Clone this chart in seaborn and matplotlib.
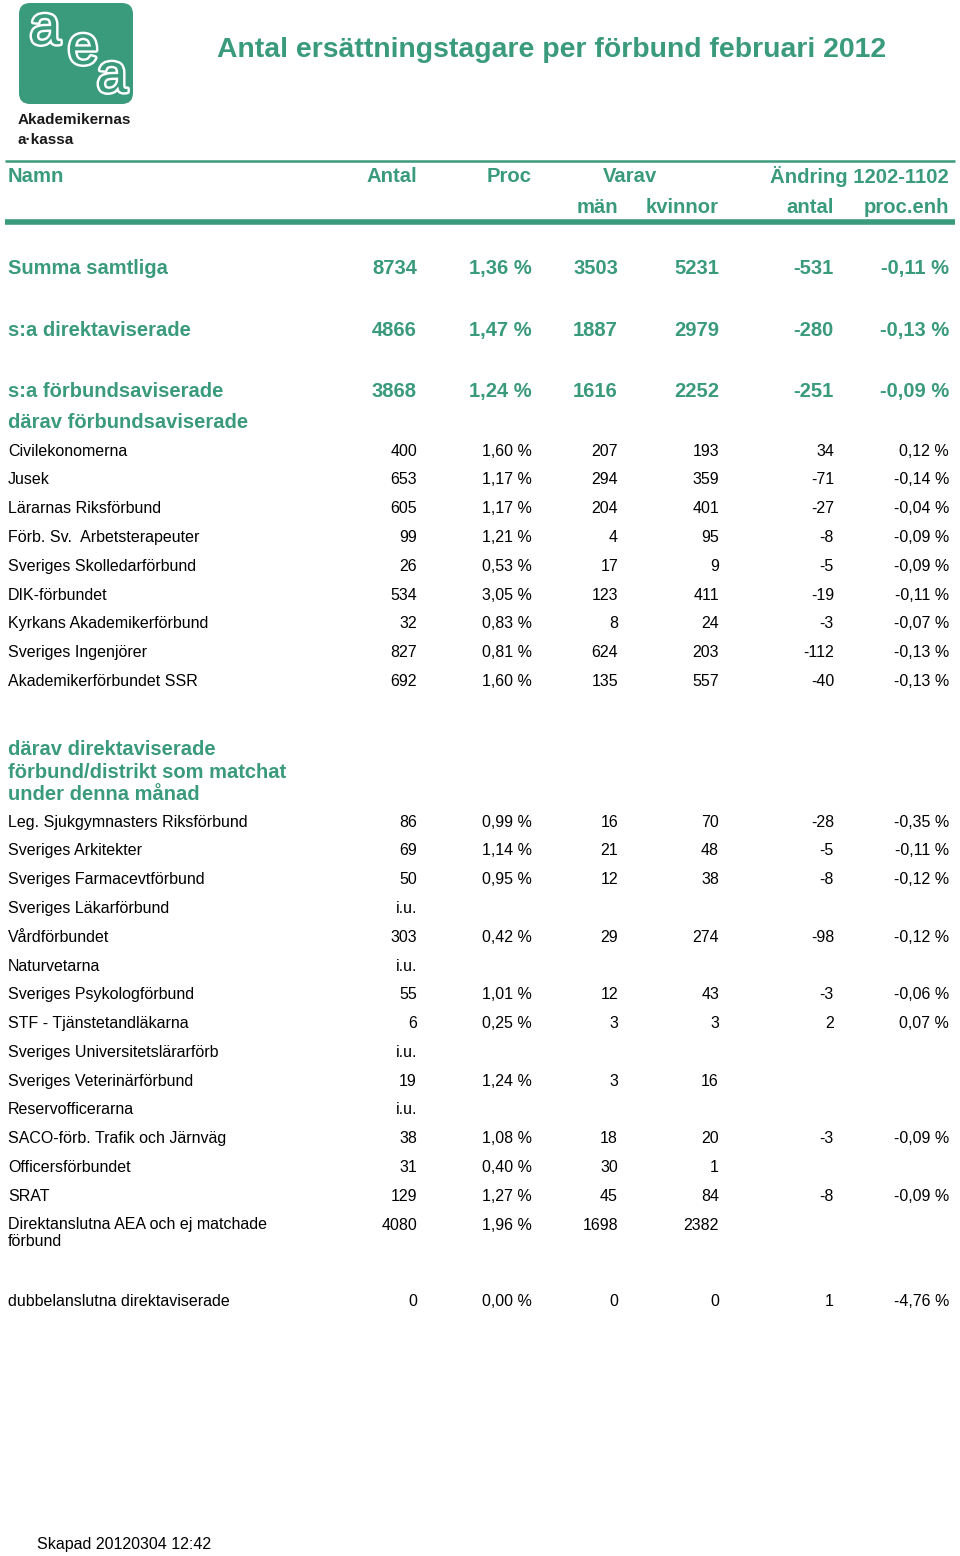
import matplotlib
matplotlib.use("Agg")
import matplotlib.pyplot as plt
import matplotlib.patheffects as pe
from matplotlib.patches import FancyBboxPatch
import seaborn as sns

# ---- data ----
title = "Antal ersättningstagare per förbund februari 2012"

sum_names = ["Summa samtliga", "s:a direktaviserade", "s:a förbundsaviserade"]
sum_antal = [8734, 4866, 3868]
sum_proc = [1.36, 1.47, 1.24]
sum_man = [3503, 1887, 1616]
sum_kvinnor = [5231, 2979, 2252]
sum_andr = [-531, -280, -251]
sum_andr_proc = [-0.11, -0.13, -0.09]

forb_names = ["Civilekonomerna", "Jusek", "Lärarnas Riksförbund",
              "Förb. Sv.  Arbetsterapeuter", "Sveriges Skolledarförbund",
              "DIK-förbundet", "Kyrkans Akademikerförbund",
              "Sveriges Ingenjörer", "Akademikerförbundet SSR"]
forb_antal = [400, 653, 605, 99, 26, 534, 32, 827, 692]
forb_proc = [1.60, 1.17, 1.17, 1.21, 0.53, 3.05, 0.83, 0.81, 1.60]
forb_man = [207, 294, 204, 4, 17, 123, 8, 624, 135]
forb_kvinnor = [193, 359, 401, 95, 9, 411, 24, 203, 557]
forb_andr = [34, -71, -27, -8, -5, -19, -3, -112, -40]
forb_andr_proc = [0.12, -0.14, -0.04, -0.09, -0.09, -0.11, -0.07, -0.13, -0.13]

dir_names = ["Leg. Sjukgymnasters Riksförbund", "Sveriges Arkitekter",
             "Sveriges Farmacevtförbund", "Sveriges Läkarförbund",
             "Vårdförbundet", "Naturvetarna", "Sveriges Psykologförbund",
             "STF - Tjänstetandläkarna", "Sveriges Universitetslärarförb",
             "Sveriges Veterinärförbund", "Reservofficerarna",
             "SACO-förb. Trafik och Järnväg", "Officersförbundet", "SRAT",
             "Direktanslutna AEA och ej matchade\nförbund"]
dir_antal = [86, 69, 50, "i.u.", 303, "i.u.", 55, 6, "i.u.", 19, "i.u.", 38, 31, 129, 4080]
dir_proc = [0.99, 1.14, 0.95, None, 0.42, None, 1.01, 0.25, None, 1.24, None, 1.08, 0.40, 1.27, 1.96]
dir_man = [16, 21, 12, None, 29, None, 12, 3, None, 3, None, 18, 30, 45, 1698]
dir_kvinnor = [70, 48, 38, None, 274, None, 43, 3, None, 16, None, 20, 1, 84, 2382]
dir_andr = [-28, -5, -8, None, -98, None, -3, 2, None, None, None, -3, None, -8, None]
dir_andr_proc = [-0.35, -0.11, -0.12, None, -0.12, None, -0.06, 0.07, None, None, None, -0.09, None, -0.09, None]

dubb_name = "dubbelanslutna direktaviserade"
dubb_vals = [0, 0.00, 0, 0, 1, -4.76]

footer = "Skapad 20120304 12:42"

# ---- style ----
sns.set_theme(style="white")
plt.rcParams["font.family"] = ["Liberation Sans", "DejaVu Sans"]

GREEN = "#3a9a7c"
col_x = [417, 532, 618, 719, 834, 949]


def pct(v):
    return f"{v:.2f} %".replace(".", ",")


def fmt_row(vals):
    out = []
    for i, v in enumerate(vals):
        if v is None:
            out.append("")
        elif isinstance(v, str):
            out.append(v)
        elif i in (1, 5):
            out.append(pct(v))
        else:
            out.append(str(v))
    return out


def draw_row(ax, y, name, vals, color="black", size=11.5, weight="normal"):
    ax.text(8, y, name, ha="left", va="center", fontsize=size,
            color=color, weight=weight)
    for x, s in zip(col_x, fmt_row(vals)):
        ax.text(x, y, s, ha="right", va="center", fontsize=size,
                color=color, weight=weight)


fig = plt.figure(figsize=(9.6, 15.56), dpi=100)
ax = fig.add_axes([0, 0, 1, 1])
ax.set_xlim(0, 960)
ax.set_ylim(1556, 0)
ax.axis("off")

# logo
logo = FancyBboxPatch((19, 3), 114, 101, boxstyle="round,pad=0,rounding_size=11",
                      fc=GREEN, ec="none")
ax.add_patch(logo)
for ch, (x, y) in zip("aea", [(45, 30), (83, 50), (112, 78)]):
    t = ax.text(x, y, ch, ha="center", va="center", fontsize=40, color=GREEN,
                path_effects=[pe.withStroke(linewidth=3.5, foreground="white")])
    t.set_clip_path(logo)
ax.text(18, 120, "Akademikernas", ha="left", va="center", fontsize=11,
        weight="bold", color="#1a1a1a")
ax.text(18, 140, "a·kassa", ha="left", va="center", fontsize=11,
        weight="bold", color="#1a1a1a")

# title
ax.text(217, 50, title, ha="left", va="center", fontsize=20.4,
        weight="bold", color=GREEN)

# header
ax.plot([5, 955], [161, 161], color=GREEN, lw=1.8, solid_capstyle="butt")
ax.plot([5, 955], [222, 222], color=GREEN, lw=4, solid_capstyle="butt")
hdr = dict(va="center", fontsize=14.6, weight="bold", color=GREEN)
ax.text(8, 176, "Namn", ha="left", **hdr)
ax.text(417, 176, "Antal", ha="right", **hdr)
ax.text(532, 176, "Proc", ha="right", **hdr)
ax.text(630, 176, "Varav", ha="center", **hdr)
ax.text(949, 176, "Ändring 1202-1102", ha="right", **hdr)
ax.text(618, 207, "män", ha="right", **hdr)
ax.text(719, 207, "kvinnor", ha="right", **hdr)
ax.text(834, 207, "antal", ha="right", **hdr)
ax.text(949, 207, "proc.enh", ha="right", **hdr)

# summary rows
for y, i in zip([268, 330, 391], range(3)):
    draw_row(ax, y, sum_names[i],
             [sum_antal[i], sum_proc[i], sum_man[i], sum_kvinnor[i],
              sum_andr[i], sum_andr_proc[i]],
             color=GREEN, size=14.5, weight="bold")

ax.text(8, 422, "därav förbundsaviserade", ha="left", va="center",
        fontsize=14.5, weight="bold", color=GREEN)

step = 28.8
for i, name in enumerate(forb_names):
    draw_row(ax, 451 + i * step, name,
             [forb_antal[i], forb_proc[i], forb_man[i], forb_kvinnor[i],
              forb_andr[i], forb_andr_proc[i]])

ax.text(8, 772, "därav direktaviserade\nförbund/distrikt som matchat\nunder denna månad",
        ha="left", va="center", fontsize=14.5, weight="bold", color=GREEN,
        linespacing=1.25)

for i, name in enumerate(dir_names):
    y = 822 + i * step
    vals = [dir_antal[i], dir_proc[i], dir_man[i], dir_kvinnor[i],
            dir_andr[i], dir_andr_proc[i]]
    if "\n" in name:
        ax.text(8, y - 8, name, ha="left", va="top", fontsize=11.5,
                color="black", linespacing=1.15)
        for x, s in zip(col_x, fmt_row(vals)):
            ax.text(x, y, s, ha="right", va="center", fontsize=11.5, color="black")
    else:
        draw_row(ax, y, name, vals)

draw_row(ax, 1301, dubb_name, dubb_vals)

ax.text(37, 1544, footer, ha="left", va="center", fontsize=11.5, color="black")

fig.savefig("out.png", dpi=100, facecolor="white")
